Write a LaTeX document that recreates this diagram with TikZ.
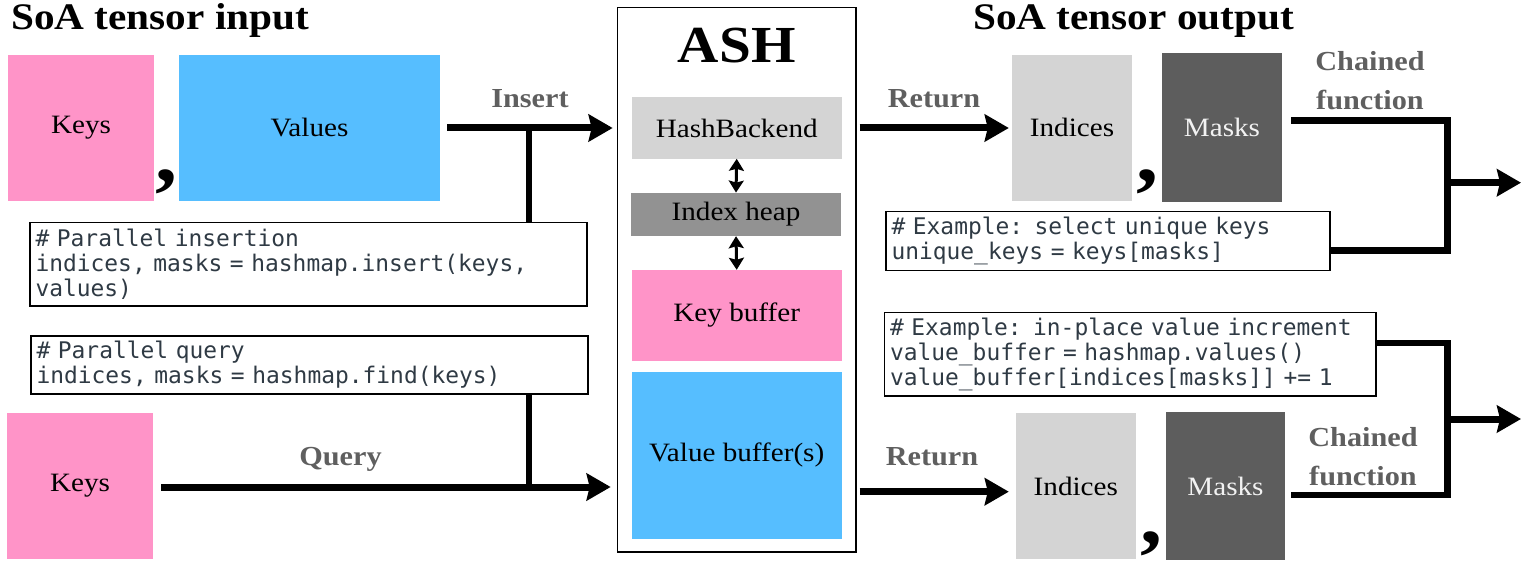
\documentclass[tikz,border=0pt]{standalone}
\usepackage{fontspec}
\setmainfont{Liberation Serif}[FakeStretch=1.1]
\newfontfamily\codefont{DejaVu Sans Mono}
\DeclareRobustCommand\codesetup{\codefont\fontsize{22.9}{25}\selectfont\spaceskip=13.8pt\relax\xspaceskip=13.8pt\relax}
\usetikzlibrary{arrows.meta}
\definecolor{keypink}{HTML}{FF94C8}
\definecolor{valblue}{HTML}{56BEFF}
\definecolor{ltgray}{HTML}{D4D4D4}
\definecolor{midgray}{HTML}{929292}
\definecolor{dkgray}{HTML}{5D5D5D}
\definecolor{lblgray}{HTML}{5F5F5F}
\definecolor{codecol}{HTML}{2F3A44}
\tikzset{
  box/.style={inner sep=0pt, font=\fontsize{26.5}{30}\selectfont},
  pinkbox/.style={box, fill=keypink},
  bluebox/.style={box, fill=valblue},
  lgbox/.style={box, fill=ltgray},
  mgbox/.style={box, fill=midgray},
  dgbox/.style={box, fill=dkgray, text=white!95!black},
  lbl/.style={font=\fontsize{27.5}{39}\selectfont\bfseries, text=lblgray, inner sep=0pt, anchor=base},
  ttl/.style={font=\fontsize{37.5}{42}\selectfont\bfseries, inner sep=0pt, anchor=base west},
  commast/.style={font=\fontsize{80}{80}\selectfont\bfseries, inner sep=0pt, anchor=base},
  code/.style={draw=black, line width=1.3pt, font=\codesetup, text=codecol, align=left, inner xsep=5.5pt, inner ysep=0pt},
  bigarrow/.style={line width=7pt, -{Stealth[length=24pt,width=27pt,inset=3pt]}},
  thickline/.style={line width=6.5pt},
  dblarrow/.style={line width=3pt, {Stealth[length=12pt,width=15pt,inset=2pt]}-{Stealth[length=12pt,width=15pt,inset=2pt]}},
}
\begin{document}
\begin{tikzpicture}[x=1pt,y=-1pt]
\useasboundingbox (0,0) rectangle (1523,564);
% titles
\node[ttl] (tin) at (11,30) {SoA tensor input};
\node[ttl] (tout) at (973,30) {SoA tensor output};
% input side
\node[pinkbox, minimum width=146pt, minimum height=145.7pt] (keysA) at (81,127.8) {Keys};
\node[commast] (cmA) at (166,182) {,};
\node[bluebox, minimum width=261pt, minimum height=145.7pt] (valA) at (309.5,127.8) {Values};
\node[pinkbox, minimum width=146pt, minimum height=146pt] (keysB) at (80,486) {Keys};
\node[code, text width=546pt, minimum height=83.3pt] (code1) at (308.5,264.35) {\# Parallel insertion\\indices, masks = hashmap.insert(keys,\\values)};
\node[code, text width=546pt, minimum height=58pt] (code2) at (309.5,365) {\# Parallel query\\indices, masks = hashmap.find(keys)};
% ASH
\node[draw=black, line width=1.3pt, minimum width=238.7pt, minimum height=544.6pt, inner sep=0pt] (ash) at (736.65,279.7) {};
\node[font=\fontsize{52}{56}\selectfont\bfseries, inner sep=0pt, anchor=base] (ashl) at (736.7,63) {ASH};
\node[lgbox, minimum width=210pt, minimum height=61.2pt] (hb) at (736.7,128) {HashBackend};
\node[mgbox, minimum width=210pt, minimum height=43.2pt] (ih) at (736,214.4) {Index heap};
\node[pinkbox, minimum width=210pt, minimum height=91pt] (kb) at (736.7,315.5) {Key buffer};
\node[bluebox, minimum width=210pt, minimum height=166.5pt] (vb) at (736.7,455.25) {Value buffer(s)};
\draw[dblarrow] (hb.south) -- (ih.north);
\draw[dblarrow] (ih.south) -- (kb.north);
% output side
\node[lgbox, minimum width=120pt, minimum height=145.7pt] (idxA) at (1072,127.85) {Indices};
\node[commast] (cmB) at (1147.5,182) {,};
\node[dgbox, minimum width=120pt, minimum height=148.7pt] (mskA) at (1222,127.35) {Masks};
\node[lgbox, minimum width=119.6pt, minimum height=146pt] (idxB) at (1075.8,486) {Indices};
\node[commast] (cmC) at (1151,543) {,};
\node[dgbox, minimum width=119pt, minimum height=148pt] (mskB) at (1225.5,486) {Masks};
\node[code, text width=433pt, minimum height=59pt] (code3) at (1108,241.2) {\# Example: select unique keys\\unique\_keys = keys[masks]};
\node[code, text width=480.5pt, minimum height=83.3pt] (code4) at (1130.25,354.35) {\# Example: in-place value increment\\value\_buffer = hashmap.values()\\value\_buffer[indices[masks]] += 1};
% labels
\node[lbl] (lins) at (530,108) {Insert};
\node[lbl] (lqry) at (340.5,465) {Query};
\node[lbl] (lretA) at (934,108) {Return};
\node[lbl] (lretB) at (932,465) {Return};
\node[lbl] (lchA1) at (1370,70.7) {Chained};
\node[lbl] (lchA2) at (1370,110) {function};
\node[lbl] (lchB1) at (1363,446.7) {Chained};
\node[lbl] (lchB2) at (1363,485) {function};
% connectors input
\coordinate (insS) at (447,128);
\coordinate (insJ) at (529,128);
\draw[bigarrow, shorten >=4pt] (insS) -- (insS -| ash.west);
\draw[thickline] (insJ) -- (insJ |- code1.north);
\coordinate (qS) at (161,487);
\coordinate (qJ) at (529,487);
\draw[bigarrow, shorten >=6pt] (qS) -- (qS -| ash.west);
\draw[thickline] (code2.south -| qJ) -- (qJ);
% returns
\coordinate (rA) at (859.5,128);
\draw[bigarrow, shorten >=3pt] (rA) -- (rA -| idxA.west);
\coordinate (rB) at (859.5,491.7);
\draw[bigarrow, shorten >=7pt] (rB) -- (rB -| idxB.west);
% chained top
\coordinate (tA) at (1291,120.7);
\coordinate (cA) at (1447.5,250.7);
\coordinate (jA) at (1447.5,182.7);
\coordinate (oA) at (1521,182.7);
\draw[thickline] (tA) -| (cA) -- (cA -| code3.east);
\draw[bigarrow] (jA) -- (oA);
% chained bottom
\coordinate (tB) at (1291,495);
\coordinate (cB) at (1447.5,343);
\coordinate (jB) at (1447.5,419);
\coordinate (oB) at (1521,419);
\draw[thickline] (code4.east |- cB) -- (cB) |- (tB);
\draw[bigarrow] (jB) -- (oB);
\end{tikzpicture}
\end{document}
